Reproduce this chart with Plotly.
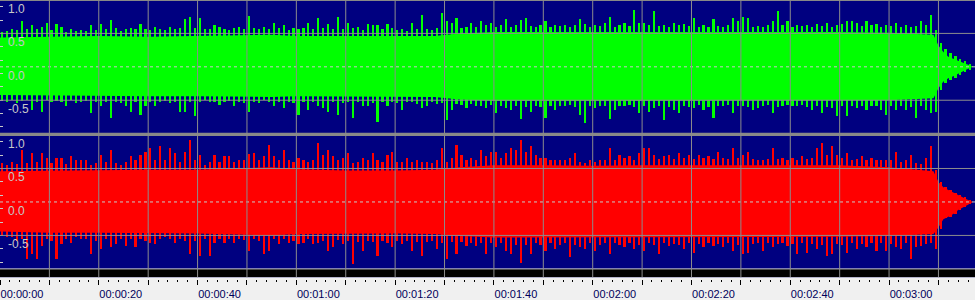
import plotly.graph_objects as go

# ---------------- data ----------------
SECONDS = list(range(197))

# per-second peak values, left channel (green)
GREEN_TOP = [0.52,0.54,0.56,0.55,0.68,0.57,0.63,0.56,0.60,0.66,0.55,0.64,0.60,0.52,0.56,0.54,0.55,0.53,0.63,0.55,
             0.64,0.56,0.70,0.58,0.54,0.56,0.58,0.57,0.64,0.56,0.55,0.60,0.57,0.55,0.60,0.56,0.58,0.71,0.74,0.58,
             0.73,0.56,0.57,0.63,0.59,0.56,0.55,0.58,0.60,0.57,0.76,0.58,0.56,0.59,0.57,0.66,0.58,0.63,0.55,0.58,
             0.56,0.58,0.65,0.57,0.73,0.58,0.64,0.57,0.75,0.56,0.65,0.58,0.60,0.55,0.64,0.62,0.63,0.57,0.64,0.58,
             0.55,0.57,0.54,0.65,0.56,0.78,0.57,0.55,0.58,0.81,0.68,0.65,0.73,0.58,0.60,0.65,0.60,0.68,0.62,0.65,
             0.60,0.62,0.71,0.60,0.62,0.70,0.73,0.61,0.60,0.63,0.69,0.60,0.62,0.61,0.63,0.60,0.62,0.71,0.64,0.60,
             0.62,0.61,0.65,0.74,0.60,0.62,0.66,0.61,0.85,0.65,0.66,0.62,0.84,0.61,0.62,0.60,0.66,0.62,0.64,0.61,
             0.73,0.60,0.62,0.60,0.71,0.61,0.60,0.62,0.73,0.68,0.75,0.73,0.60,0.61,0.59,0.62,0.68,0.83,0.62,0.68,
             0.60,0.63,0.61,0.62,0.60,0.64,0.61,0.65,0.60,0.62,0.64,0.68,0.69,0.65,0.61,0.68,0.62,0.64,0.60,0.62,
             0.61,0.65,0.60,0.63,0.60,0.61,0.69,0.62,0.78,0.55,0.36,0.27,0.20,0.16,0.12,0.08,0.04]
GREEN_BOT = [-0.50,-0.52,-0.50,-0.54,-0.51,-0.50,-0.64,-0.52,-0.67,-0.50,-0.52,-0.51,-0.53,-0.59,-0.50,-0.54,-0.52,-0.51,-0.69,-0.52,
             -0.59,-0.53,-0.77,-0.52,-0.54,-0.59,-0.67,-0.52,-0.72,-0.59,-0.53,-0.58,-0.52,-0.51,-0.54,-0.52,-0.67,-0.67,-0.53,-0.74,
             -0.52,-0.49,-0.53,-0.52,-0.57,-0.53,-0.51,-0.59,-0.52,-0.54,-0.67,-0.52,-0.54,-0.49,-0.52,-0.59,-0.53,-0.62,-0.52,-0.54,
             -0.72,-0.53,-0.64,-0.52,-0.59,-0.62,-0.67,-0.53,-0.72,-0.54,-0.52,-0.77,-0.53,-0.59,-0.59,-0.54,-0.82,-0.53,-0.59,-0.52,
             -0.54,-0.64,-0.53,-0.52,-0.55,-0.62,-0.58,-0.53,-0.55,-0.54,-0.79,-0.64,-0.55,-0.57,-0.62,-0.56,-0.58,-0.59,-0.62,-0.57,
             -0.69,-0.58,-0.62,-0.64,-0.58,-0.78,-0.60,-0.67,-0.58,-0.60,-0.77,-0.58,-0.64,-0.59,-0.59,-0.57,-0.60,-0.72,-0.84,-0.58,
             -0.62,-0.59,-0.58,-0.78,-0.64,-0.58,-0.59,-0.57,-0.60,-0.69,-0.58,-0.67,-0.62,-0.58,-0.79,-0.60,-0.64,-0.69,-0.58,-0.60,
             -0.62,-0.57,-0.64,-0.60,-0.77,-0.58,-0.59,-0.57,-0.69,-0.59,-0.58,-0.60,-0.64,-0.62,-0.58,-0.57,-0.69,-0.60,-0.59,-0.57,
             -0.59,-0.58,-0.57,-0.60,-0.64,-0.58,-0.69,-0.60,-0.62,-0.74,-0.58,-0.74,-0.59,-0.62,-0.58,-0.64,-0.59,-0.58,-0.64,-0.72,
             -0.59,-0.64,-0.58,-0.64,-0.60,-0.77,-0.58,-0.64,-0.69,-0.68,-0.34,-0.24,-0.20,-0.17,-0.12,-0.08,-0.04]

# per-second peak values, right channel (red)
RED_TOP = [0.58,0.55,0.60,0.57,0.78,0.58,0.73,0.60,0.73,0.65,0.58,0.65,0.65,0.57,0.68,0.63,0.63,0.63,0.55,0.58,
           0.70,0.60,0.78,0.58,0.55,0.60,0.68,0.63,0.70,0.75,0.80,0.62,0.83,0.62,0.80,0.73,0.60,0.75,0.93,0.62,
           0.70,0.55,0.60,0.70,0.60,0.68,0.68,0.60,0.62,0.63,0.71,0.73,0.62,0.68,0.85,0.68,0.62,0.78,0.63,0.60,
           0.65,0.63,0.60,0.62,0.88,0.70,0.78,0.68,0.62,0.65,0.73,0.58,0.60,0.65,0.63,0.73,0.63,0.60,0.70,0.75,
           0.60,0.60,0.65,0.60,0.63,0.60,0.60,0.58,0.62,0.80,0.60,0.65,0.85,0.70,0.62,0.65,0.63,0.78,0.68,0.75,
           0.75,0.65,0.73,0.80,0.78,0.93,0.75,0.83,0.70,0.65,0.65,0.63,0.62,0.63,0.62,0.65,0.73,0.60,0.58,0.62,
           0.60,0.62,0.63,0.80,0.62,0.70,0.65,0.68,0.63,0.73,0.80,0.80,0.70,0.64,0.68,0.70,0.64,0.73,0.65,0.70,
           0.64,0.70,0.65,0.68,0.64,0.75,0.65,0.64,0.80,0.66,0.70,0.75,0.64,0.63,0.62,0.64,0.80,0.64,0.65,0.63,
           0.65,0.63,0.68,0.64,0.66,0.80,0.88,0.70,0.83,0.70,0.65,0.73,0.63,0.64,0.68,0.62,0.65,0.63,0.62,0.63,
           0.63,0.75,0.60,0.62,0.70,0.58,0.57,0.65,0.83,0.48,0.30,0.22,0.18,0.14,0.10,0.07,0.03]
RED_BOT = [-0.50,-0.53,-0.52,-0.58,-0.55,-0.86,-0.78,-0.86,-0.66,-0.55,-0.58,-0.86,-0.63,-0.55,-0.61,-0.53,-0.56,-0.55,-0.78,-0.58,
           -0.71,-0.56,-0.68,-0.63,-0.55,-0.66,-0.56,-0.68,-0.56,-0.58,-0.61,-0.63,-0.55,-0.53,-0.56,-0.61,-0.56,-0.58,-0.78,-0.58,
           -0.81,-0.56,-0.81,-0.61,-0.56,-0.61,-0.56,-0.61,-0.55,-0.57,-0.73,-0.56,-0.58,-0.78,-0.73,-0.56,-0.63,-0.56,-0.61,-0.58,
           -0.63,-0.61,-0.56,-0.63,-0.61,-0.58,-0.73,-0.68,-0.57,-0.63,-0.58,-0.93,-0.60,-0.73,-0.58,-0.60,-0.81,-0.58,-0.61,-0.68,
           -0.58,-0.63,-0.58,-0.73,-0.60,-0.81,-0.60,-0.58,-0.71,-0.62,-0.86,-0.60,-0.78,-0.60,-0.66,-0.62,-0.66,-0.62,-0.78,-0.62,
           -0.68,-0.62,-0.73,-0.78,-0.64,-0.91,-0.64,-0.78,-0.62,-0.64,-0.73,-0.62,-0.71,-0.64,-0.62,-0.83,-0.64,-0.68,-0.71,-0.62,
           -0.73,-0.64,-0.62,-0.78,-0.62,-0.64,-0.68,-0.62,-0.71,-0.64,-0.73,-0.61,-0.64,-0.78,-0.62,-0.66,-0.63,-0.64,-0.71,-0.62,
           -0.76,-0.63,-0.68,-0.62,-0.66,-0.63,-0.68,-0.62,-0.73,-0.64,-0.78,-0.76,-0.63,-0.62,-0.73,-0.62,-0.68,-0.63,-0.62,-0.66,
           -0.63,-0.78,-0.62,-0.76,-0.63,-0.71,-0.64,-0.81,-0.78,-0.63,-0.64,-0.76,-0.62,-0.71,-0.63,-0.68,-0.62,-0.73,-0.62,-0.73,
           -0.63,-0.68,-0.71,-0.62,-0.85,-0.68,-0.66,-0.63,-0.62,-0.70,-0.40,-0.24,-0.22,-0.18,-0.12,-0.07,-0.03]

# dense body (envelope) of each channel
BODY_T = [0, 10, 20, 30, 40, 50, 55, 60, 70, 80, 88, 93, 100, 110, 120, 130, 140, 150, 160, 170, 180,
          189, 190, 191, 192, 193, 194, 195, 196, 197]
GREEN_BODY_TOP = [0.44, 0.45, 0.46, 0.45, 0.46, 0.47, 0.48, 0.46, 0.46, 0.45, 0.46, 0.50, 0.52, 0.52, 0.52, 0.53,
                  0.52, 0.53, 0.52, 0.52, 0.51, 0.48, 0.32, 0.22, 0.15, 0.12, 0.09, 0.06, 0.02, 0.0]
GREEN_BODY_BOT = [-0.42, -0.43, -0.43, -0.44, -0.44, -0.45, -0.45, -0.44, -0.44, -0.44, -0.45, -0.49, -0.51, -0.51,
                  -0.51, -0.50, -0.50, -0.50, -0.50, -0.50, -0.50, -0.47, -0.32, -0.22, -0.17, -0.14, -0.10, -0.07,
                  -0.03, 0.0]
RED_BODY_TOP = [0.46, 0.47, 0.47, 0.48, 0.48, 0.50, 0.52, 0.49, 0.47, 0.47, 0.48, 0.52, 0.55, 0.55, 0.54, 0.55,
                0.55, 0.56, 0.55, 0.55, 0.52, 0.46, 0.30, 0.22, 0.18, 0.14, 0.10, 0.07, 0.03, 0.0]
RED_BODY_BOT = [-0.44, -0.46, -0.46, -0.46, -0.47, -0.49, -0.50, -0.48, -0.47, -0.47, -0.48, -0.51, -0.53, -0.53,
                -0.52, -0.52, -0.52, -0.53, -0.52, -0.52, -0.51, -0.48, -0.38, -0.26, -0.22, -0.18, -0.12, -0.08,
                -0.03, 0.0]

# axes
TIME_RANGE = [0, 197.4]
TIME_TICKS = list(range(0, 200, 10))
TIME_LABELS = ["00:00:00", "", "00:00:20", "", "00:00:40", "", "00:01:00", "", "00:01:20", "",
               "00:01:40", "", "00:02:00", "", "00:02:20", "", "00:02:40", "", "00:03:00", ""]
AMP_LABEL_VALUES = [1.0, 0.5, 0.0, -0.5]
AMP_LABELS = ["1.0", "0.5", "0.0", "-0.5"]
AMP_SMALL_TICKS = [-0.9, -0.7, -0.5, -0.3, -0.1, 0.1, 0.3, 0.5, 0.7, 0.9]
GRID_AMPS = [0.5, -0.5]

# ---------------- styles ----------------
NAVY = "#000080"
GREEN = "#00ff00"
RED = "#ff0000"
GRID = "#8c8c8c"
LABEL_GRAY = "#c8c8c8"
FONT = "Liberation Sans"

fig = go.Figure()


def add_channel(xa, ya, color, body_top, body_bot, peak_top, peak_bot):
    fig.add_trace(go.Scatter(x=BODY_T, y=body_bot, xaxis=xa, yaxis=ya, mode="lines",
                             line=dict(width=0, color=color), hoverinfo="skip", showlegend=False))
    fig.add_trace(go.Scatter(x=BODY_T, y=body_top, xaxis=xa, yaxis=ya, mode="lines",
                             line=dict(width=0, color=color), fill="tonexty", fillcolor=color,
                             hoverinfo="skip", showlegend=False))
    fig.add_trace(go.Bar(x=SECONDS, y=[t - b for t, b in zip(peak_top, peak_bot)], base=peak_bot,
                         offset=0.32, width=0.34, xaxis=xa, yaxis=ya,
                         marker=dict(color=color, line=dict(width=0)), hoverinfo="skip", showlegend=False))


add_channel("x", "y", GREEN, GREEN_BODY_TOP, GREEN_BODY_BOT, GREEN_TOP, GREEN_BOT)
add_channel("x2", "y2", RED, RED_BODY_TOP, RED_BODY_BOT, RED_TOP, RED_BOT)

# carrier trace for the time ruler axis
fig.add_trace(go.Scatter(x=[TIME_TICKS[0]], y=[0], xaxis="x3", yaxis="y2", mode="markers",
                         marker=dict(opacity=0), hoverinfo="skip", showlegend=False))

H = 300.0
top_dom = [(H - 135) / H, 1.0]
bot_dom = [(H - 280) / H, (H - 136.4) / H]
bot_low = -1 - 8.4 / 67.6

amp_axis = dict(showgrid=False, zeroline=False, showline=False, tickmode="array",
                tickvals=AMP_SMALL_TICKS, ticks="inside", ticklen=3, tickwidth=1,
                tickcolor=LABEL_GRAY, showticklabels=False, fixedrange=True)
plain_x = dict(range=TIME_RANGE, showgrid=False, zeroline=False, showline=False,
               ticks="", showticklabels=False, fixedrange=True)

fig.update_layout(
    width=975, height=300, autosize=False,
    margin=dict(l=0, r=0, t=0, b=0, pad=0),
    paper_bgcolor="#f0f0f0", plot_bgcolor=NAVY,
    barmode="overlay", bargap=0, showlegend=False,
    xaxis=dict(plain_x, domain=[0, 1], anchor="y"),
    yaxis=dict(amp_axis, domain=top_dom, range=[-1, 1], anchor="x"),
    xaxis2=dict(plain_x, domain=[0, 1], anchor="y2", matches="x"),
    yaxis2=dict(amp_axis, domain=bot_dom, range=[bot_low, 1], anchor="x2"),
    xaxis3=dict(range=TIME_RANGE, overlaying="x2", anchor="free", position=(H - 282) / H,
                side="bottom", showgrid=False, zeroline=False, showline=False,
                tickmode="array", tickvals=TIME_TICKS, ticktext=TIME_LABELS,
                ticks="outside", ticklen=5, tickwidth=1, tickcolor="#000000",
                minor=dict(tick0=0, dtick=2, ticks="outside", ticklen=2, tickwidth=1, tickcolor="#000000"),
                ticklabelshift=22, ticklabelstandoff=0,
                tickfont=dict(family=FONT, size=11, color="#00005a"), fixedrange=True),
)

shapes = []
# black ruler strip under the lower channel
shapes.append(dict(type="rect", xref="paper", yref="y2", x0=0, x1=1, y0=bot_low, y1=-1.0,
                   fillcolor="#000000", line=dict(width=0), layer="above"))
shapes.append(dict(type="line", xref="paper", yref="y2", x0=0, x1=1, y0=-1.0, y1=-1.0,
                   line=dict(color="#d0d0d0", width=1), layer="above"))
# separator between the channels and top border
shapes.append(dict(type="rect", xref="paper", yref="paper", x0=0, x1=1, y0=(H - 137.3) / H, y1=(H - 134) / H,
                   fillcolor="#888888", line=dict(width=0), layer="above"))
shapes.append(dict(type="rect", xref="paper", yref="paper", x0=0, x1=1, y0=(H - 1) / H, y1=1,
                   fillcolor="#888888", line=dict(width=0), layer="above"))
# horizontal grid and dashed centre lines
for ya in ("y", "y2"):
    for g in GRID_AMPS:
        shapes.append(dict(type="line", xref="paper", yref=ya, x0=0, x1=1, y0=g, y1=g,
                           line=dict(color=GRID, width=1), layer="above"))
    shapes.append(dict(type="line", xref="paper", yref=ya, x0=0, x1=1, y0=0, y1=0,
                       line=dict(color=LABEL_GRAY, width=1, dash="3px,3px"), layer="above"))
# vertical grid lines (through both channels and the black strip)
for t in TIME_TICKS[1:]:
    shapes.append(dict(type="line", xref="x", yref="paper", x0=t, x1=t, y0=(H - 280) / H, y1=1,
                       line=dict(color=GRID, width=1), layer="above"))
fig.update_layout(shapes=shapes)

# amplitude labels sitting just below their lines
ann = []
for ya in ("y", "y2"):
    for v, txt in zip(AMP_LABEL_VALUES, AMP_LABELS):
        ann.append(dict(x=0, xref="paper", y=v, yref=ya, text=txt, showarrow=False,
                        xanchor="left", yanchor="top", xshift=6, yshift=0,
                        font=dict(family=FONT, size=12, color=LABEL_GRAY)))
fig.update_layout(annotations=ann)

fig.write_html("out.html")
